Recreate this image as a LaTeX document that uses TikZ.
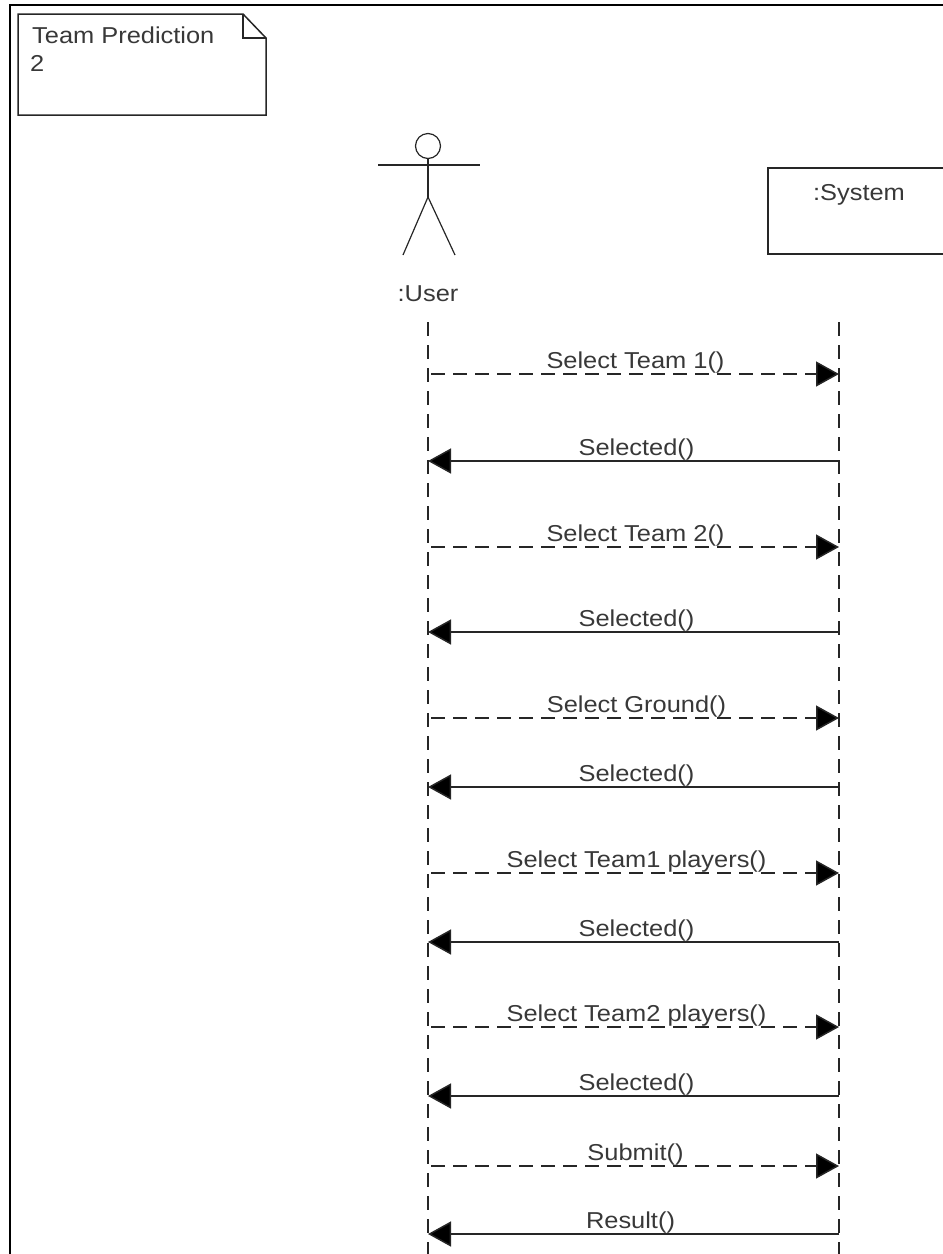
\documentclass[tikz,border=0pt]{standalone}
\usepackage{fontspec}
\setmainfont{Liberation Sans}
\usetikzlibrary{arrows.meta}
\newcommand{\wtxt}[1]{\scalebox{1.105}[1]{#1}}
\tikzset{
  x=1pt,y=-1pt,
  ln/.style={line width=1.5pt,draw=black!85},
  txt/.style={font=\fontsize{23}{27}\selectfont,text=black!78,inner sep=0pt,anchor=base},
  life/.style={ln,dash pattern=on 14pt off 9pt},
  sync/.style={ln,-{Triangle[length=23pt,width=25pt,fill=black]}},
  call/.style={sync,dash pattern=on 14pt off 8pt,shorten <=3pt},
  lbl/.style={txt,midway,yshift=6pt}
}
\begin{document}
\begin{tikzpicture}
\useasboundingbox (0,0) rectangle (943,1254);
% frame
\coordinate (fa) at (10,1254);
\coordinate (fb) at (10,5);
\coordinate (fc) at (943,5);
\draw[line width=1.8pt,black] (fa) -- (fb) -- (fc);
% note
\draw[ln] (18,14) -- (243,14) -- (266,38) -- (266,115) -- (18,115) -- cycle;
\draw[ln] (243,14) -- (243,38) -- (266,38);
\node[txt,anchor=base west] (notea) at (32,43) {\wtxt{Team Prediction}};
\node[txt,anchor=base west] (noteb) at (30,71) {\wtxt{2}};
% actor
\node[draw=black!85,line width=1.2pt,circle,minimum size=25pt,inner sep=0pt] (head) at (428,146) {};
\coordinate (hip) at (428,197);
\draw[line width=1.2pt,black!85] (head.south) -- (hip);
\draw[line width=1.2pt,black!85] (378,165) -- (480,165);
\draw[line width=1.2pt,black!85] (403,255) -- (hip) -- (455,255);
\node[txt] (user) at (428,301) {\wtxt{:User}};
% system
\draw[ln] (943,168) -- (768,168) -- (768,254) -- (943,254);
\node[txt] (system) at (859,200) {\wtxt{:System}};
% lifelines
\coordinate (ut) at (428,322);
\coordinate (ub) at (428,1254);
\coordinate (st) at (839,322);
\coordinate (sb) at (839,1254);
\draw[life] (ut) -- (ub);
\draw[life] (st) -- (sb);
% messages
\foreach \n/\y in {1/374,2/461,3/547,4/632,5/718,6/787,7/873,8/942,9/1027,10/1096,11/1166,12/1234}{
  \coordinate (u\n) at (428,\y);
  \coordinate (s\n) at (839,\y);
}
\draw[call] (u1) -- node[lbl,xshift=2pt] (m1) {\wtxt{Select Team 1()}} (s1);
\draw[sync] (s2) -- node[lbl,xshift=3pt] (m2) {\wtxt{Selected()}} (u2);
\draw[call] (u3) -- node[lbl,xshift=2pt] (m3) {\wtxt{Select Team 2()}} (s3);
\draw[sync] (s4) -- node[lbl,xshift=3pt] (m4) {\wtxt{Selected()}} (u4);
\draw[call] (u5) -- node[lbl,xshift=3pt] (m5) {\wtxt{Select Ground()}} (s5);
\draw[sync] (s6) -- node[lbl,xshift=3pt] (m6) {\wtxt{Selected()}} (u6);
\draw[call] (u7) -- node[lbl,xshift=3pt] (m7) {\wtxt{Select Team1 players()}} (s7);
\draw[sync] (s8) -- node[lbl,xshift=3pt] (m8) {\wtxt{Selected()}} (u8);
\draw[call] (u9) -- node[lbl,xshift=3pt] (m9) {\wtxt{Select Team2 players()}} (s9);
\draw[sync] (s10) -- node[lbl,xshift=3pt] (m10) {\wtxt{Selected()}} (u10);
\draw[call] (u11) -- node[lbl,xshift=2pt] (m11) {\wtxt{Submit()}} (s11);
\draw[sync] (s12) -- node[lbl,xshift=-3pt] (m12) {\wtxt{Result()}} (u12);
\end{tikzpicture}
\end{document}
